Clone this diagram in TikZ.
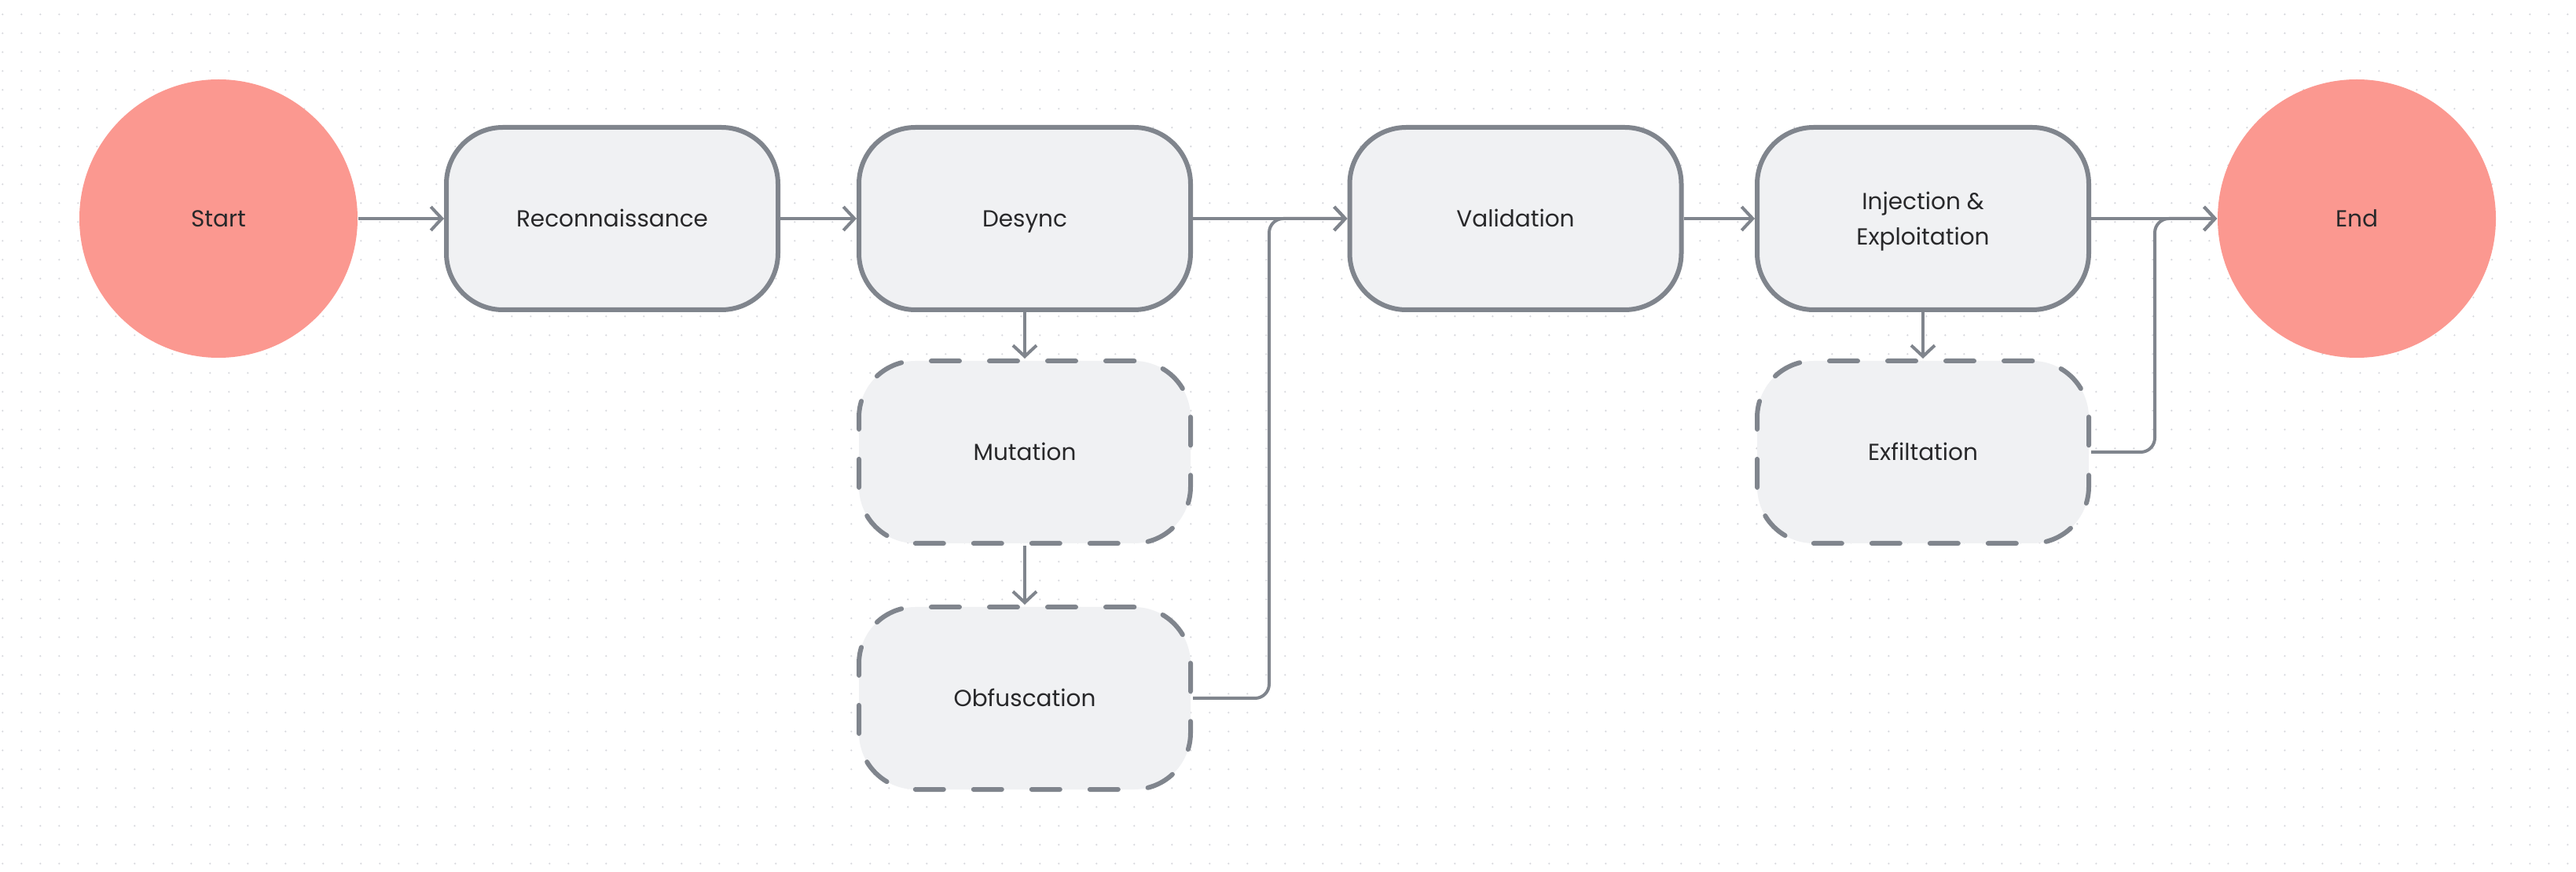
\documentclass[tikz,border=0pt]{standalone}
\usepackage{fontspec}
\setmainfont{Poppins}
\usetikzlibrary{arrows.meta}
\definecolor{salmon}{RGB}{251,152,144}
\definecolor{boxfill}{RGB}{240,241,243}
\definecolor{edgegray}{RGB}{128,133,141}
\definecolor{inkgray}{RGB}{40,40,42}
\definecolor{dotgray}{RGB}{214,215,220}

\begin{document}
\begin{tikzpicture}[
  terminal/.style={circle, fill=salmon, minimum size=3.54cm, inner sep=0pt},
  stage/.style={rectangle, rounded corners=0.72cm, draw=edgegray, line width=0.06cm,
    fill=boxfill, minimum width=4.22cm, minimum height=2.32cm, inner sep=0pt},
  optional/.style={stage, dash pattern=on 0.36cm off 0.38cm, line cap=round},
  flow/.style={draw=edgegray, line width=0.04cm,
    -{Straight Barb[length=0.14cm,width=0.30cm]}},
  font=\fontsize{8.4}{12.8}\selectfont, text=inkgray, text height=0.22cm, text depth=0pt]
\useasboundingbox (0,0) rectangle (32.78,11.08);
\fill[white] (0,0) rectangle (32.78,11.08);
\foreach \i in {0,...,136}
\foreach \j in {0,...,45}
\fill[dotgray] (0.033+0.24*\i,10.897-0.24*\j) circle (0.012);

\node[terminal] (start) at (2.78,8.30) {Start};
\node[stage] (recon) at (7.79,8.30) {Reconnaissance};
\node[stage] (desync) at (13.04,8.30) {Desync};
\node[optional] (mutat) at (13.04,5.33) {Mutation};
\node[optional] (obfus) at (13.04,2.20) {Obfuscation};
\node[stage] (valid) at (19.285,8.30) {Validation};
\node[stage, align=center, text height=0.67cm] (inject) at (24.47,8.30) {Injection \&\\Exploitation};
\node[optional] (exfil) at (24.47,5.33) {Exfiltation};
\node[terminal] (stop) at (29.99,8.30) {End};

\draw[flow] (start) -- (recon);
\draw[flow] (recon) -- (desync);
\draw[flow] (desync) -- (valid);
\draw[flow] (desync) -- (mutat);
\draw[flow] (mutat) -- (obfus);
\draw[flow, rounded corners=0.18cm] (obfus.east) -- ++(0.97,0) |- (valid.west);
\draw[flow] (valid) -- (inject);
\draw[flow] (inject) -- (exfil);
\draw[flow] (inject) -- (stop);
\draw[flow, rounded corners=0.18cm] (exfil.east) -- ++(0.81,0) |- (stop.west);
\end{tikzpicture}
\end{document}
